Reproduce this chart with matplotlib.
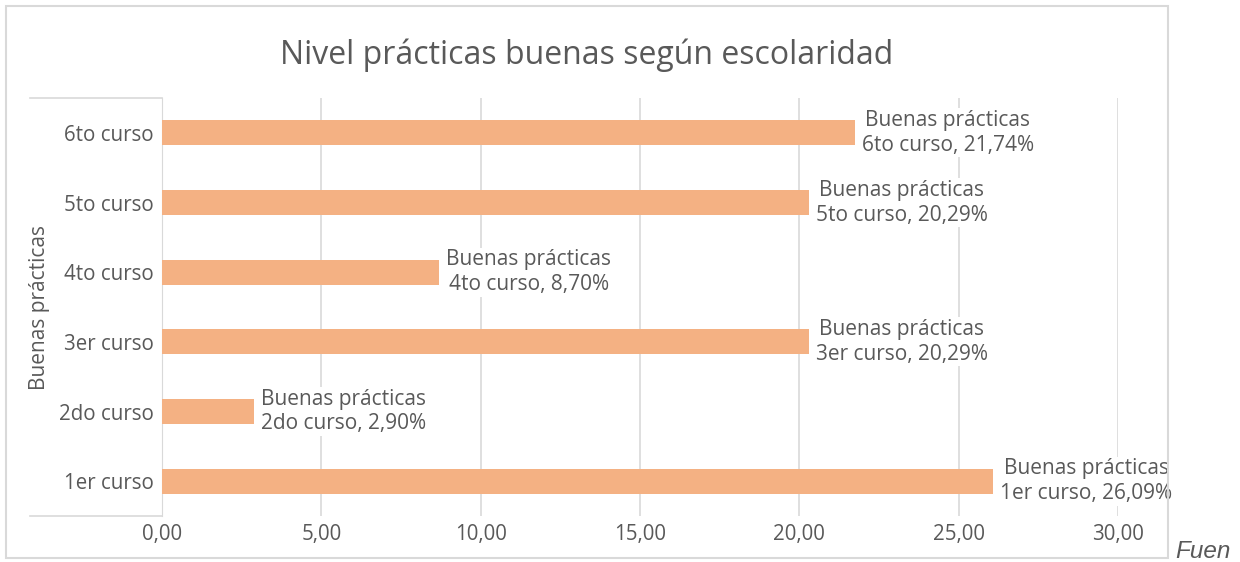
import matplotlib.pyplot as plt
from matplotlib.patches import Rectangle
from matplotlib.lines import Line2D

cursos = ["1er curso", "2do curso", "3er curso", "4to curso", "5to curso", "6to curso"]
valores = [26.09, 2.90, 20.29, 8.70, 20.29, 21.74]
xticks = [0, 5, 10, 15, 20, 25, 30]

W, H = 1240, 562
gray = "#595959"
grid = "#D9D9D9"
bar_color = "#F4B183"

plt.rcParams['font.family'] = ['Open Sans', 'DejaVu Sans']

fig = plt.figure(figsize=(W / 100, H / 100), dpi=100)

def fx(px):
    return px / W

def fy(py):
    return 1 - py / H

# plot area in pixels: x 162..1118, y 98..516
ax = fig.add_axes([fx(162), fy(516), fx(1118) - fx(162), fy(98) - fy(516)])

ypos = list(range(len(cursos)))
ax.barh(ypos, valores, height=0.36, color=bar_color, zorder=3)
ax.set_xlim(0, 30)
ax.set_ylim(-0.5, len(cursos) - 0.5)
ax.set_xticks(xticks)
ax.set_xticklabels([f"{t:.2f}".replace(".", ",") for t in xticks], fontsize=14.8, color=gray)
ax.set_yticks(ypos)
ax.set_yticklabels(cursos, fontsize=14.8, color=gray)
ax.tick_params(length=0, pad=6)
ax.tick_params(axis='y', pad=6)
for s in ax.spines.values():
    s.set_visible(False)
ax.spines['left'].set_visible(True)
ax.spines['left'].set_color(grid)
ax.grid(axis='x', color=grid, linewidth=1.2, zorder=0)

for y, v, c in zip(ypos, valores, cursos):
    lbl = f"Buenas prácticas\n{c}, {v:.2f}%".replace(".", ",")
    ax.annotate(lbl, (v, y), xytext=(5, 0), textcoords='offset points',
                ha='left', va='center', multialignment='center',
                fontsize=15, color=gray, linespacing=1.25, zorder=4,
                bbox=dict(facecolor='white', edgecolor='none', pad=1))

# category box lines
fig.add_artist(Line2D([fx(30), fx(162)], [fy(98), fy(98)], color=grid, lw=1.2))
fig.add_artist(Line2D([fx(30), fx(162)], [fy(516), fy(516)], color=grid, lw=1.2))

fig.text(fx(40), fy(307), "Buenas prácticas", rotation=90, ha='center', va='center',
         fontsize=15, color=gray)

fig.text(fx(587), fy(55), "Nivel prácticas buenas según escolaridad", ha='center', va='center',
         fontsize=23, color=gray)

# chart border
fig.add_artist(Rectangle((fx(6), fy(558)), fx(1168) - fx(6), fy(6) - fy(558),
                         fill=False, edgecolor=grid, lw=1.5, transform=fig.transFigure))

fig.text(fx(1175), fy(551), "Fuen", ha='left', va='center', fontsize=17.5, color=gray,
         style='italic', family=['Liberation Sans', 'DejaVu Sans'])

fig.savefig("out.png", dpi=100)
